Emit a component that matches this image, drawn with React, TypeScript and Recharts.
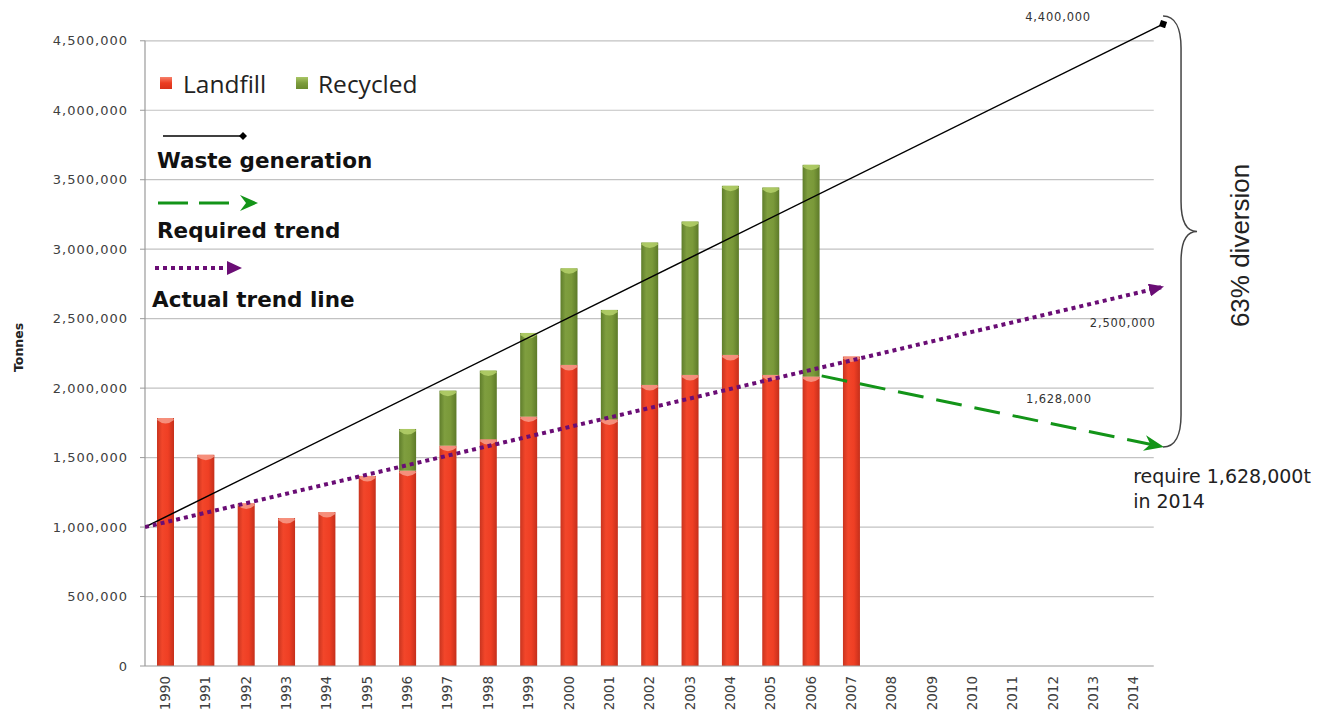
import React from 'react';
import {
  ComposedChart,
  Bar,
  Line,
  XAxis,
  YAxis,
  ReferenceLine,
  ReferenceDot,
  Legend,
  Label,
} from 'recharts';

// ---------- data ----------
const YEARS = [
  1990, 1991, 1992, 1993, 1994, 1995, 1996, 1997, 1998, 1999, 2000, 2001, 2002,
  2003, 2004, 2005, 2006, 2007, 2008, 2009, 2010, 2011, 2012, 2013, 2014,
];
const BAR_YEARS = [
  1990, 1991, 1992, 1993, 1994, 1995, 1996, 1997, 1998, 1999, 2000, 2001, 2002,
  2003, 2004, 2005, 2006, 2007,
];
const LANDFILL = [
  1785000, 1520000, 1170000, 1065000, 1108000, 1368000, 1406000, 1586000,
  1632000, 1795000, 2167000, 1775000, 2023000, 2095000, 2239000, 2095000,
  2083000, 2227000,
];
const RECYCLED = [
  0, 0, 0, 0, 0, 0, 300000, 396000, 494000, 602000, 695000, 788000, 1025000,
  1104000, 1217000, 1349000, 1524000, 0,
];
const Y_TICKS = [
  0, 500000, 1000000, 1500000, 2000000, 2500000, 3000000, 3500000, 4000000,
  4500000,
];
const GRID_VALUES = [500000, 1000000, 1500000, 2000000, 2500000, 3000000, 3500000, 4000000, 4500000];
const BOUNDS = [...YEARS.map((y) => y - 0.5), 2014.5];

// trend lines (start / end points)
const WASTE_X = [1989.5, 2014.73];
const WASTE_V = [1000000, 4620000];
const ACTUAL_X = [1989.5, 2014.73];
const ACTUAL_V = [1000000, 2729000];
const REQUIRED_X = [2006.27, 2014.73];
const REQUIRED_V = [2088000, 1577000];

const SERIES = {
  landfill: 'Landfill',
  recycled: 'Recycled',
  waste: 'Waste generation',
  required: 'Required trend',
  actual: 'Actual trend line',
};

const barData = BAR_YEARS.map((year, i) => ({
  year,
  landfill: LANDFILL[i],
  recycled: RECYCLED[i],
}));
const wasteData = WASTE_X.map((year, i) => ({ year, v: WASTE_V[i] }));
const actualData = ACTUAL_X.map((year, i) => ({ year, v: ACTUAL_V[i] }));
const requiredData = REQUIRED_X.map((year, i) => ({ year, v: REQUIRED_V[i] }));

const X_DOMAIN: [number, number] = [1989.5, 2015.2];
const Y_DOMAIN: [number, number] = [0, 4700000];

const fmt = (v: number) => v.toLocaleString('en-US');

// ---------- styles ----------
const GREEN = '#139418';
const PURPLE = '#6a0d75';
const GRID = '#c2c2c2';
const AXIS = '#9a9a9a';
const TICK_TEXT = '#404040';
const BAR_W = 17;

const makeBarShape = (grad: string, cap: string) => (p: any) => {
  const { x, y, width, height } = p;
  if (!height || height <= 0) return <g />;
  const cx = x + width / 2;
  const bx = cx - BAR_W / 2;
  const w = BAR_W;
  return (
    <g>
      <rect x={bx} y={y} width={w} height={height} fill={`url(#${grad})`} />
      <path
        d={`M${bx + 1},${y} L${bx + w - 1},${y} L${bx + w},${y + 2} Q${cx},${y + 9} ${bx},${y + 2} Z`}
        fill={cap}
        opacity={0.8}
      />
    </g>
  );
};
const LandfillShape = makeBarShape('gRed', '#f8a391');
const RecycledShape = makeBarShape('gGreen', '#b9d46e');

const XTick = (p: any) => {
  const { x, y, payload } = p;
  return (
    <text
      x={x}
      y={y}
      dy="0.36em"
      transform={`rotate(-90, ${x}, ${y})`}
      textAnchor="end"
      fontFamily="DejaVu Sans"
      fontSize={13.5}
      fill={TICK_TEXT}
    >
      {payload.value}
    </text>
  );
};

const YTick = (p: any) => {
  const { x, y, payload } = p;
  return (
    <text
      x={x}
      y={y}
      dy="0.355em"
      textAnchor="end"
      fontFamily="DejaVu Sans"
      fontSize={13}
      letterSpacing={1}
      fill={TICK_TEXT}
    >
      {fmt(payload.value)}
    </text>
  );
};

const TonnesLabel = (p: any) => {
  const vb = p.viewBox || { x: 0, y: 0, height: 0 };
  const x = vb.x + 15;
  const y = vb.y + vb.height / 2 + 8;
  return (
    <text
      x={x}
      y={y}
      transform={`rotate(-90, ${x}, ${y})`}
      textAnchor="middle"
      fontFamily="DejaVu Sans"
      fontWeight="bold"
      fontSize={12.5}
      fill="#222"
    >
      Tonnes
    </text>
  );
};

const textShape =
  (label: string, opts: { size: number; family?: string; anchor?: string; spacing?: number; color?: string; rotate?: boolean; second?: string }) =>
  (p: any) => {
    const { cx, cy } = p;
    return (
      <text
        x={cx}
        y={cy}
        textAnchor={opts.anchor || 'middle'}
        fontFamily={opts.family || 'DejaVu Sans'}
        fontSize={opts.size}
        letterSpacing={opts.spacing || 0}
        fill={opts.color || '#333'}
        transform={opts.rotate ? `rotate(-90, ${cx}, ${cy})` : undefined}
      >
        {opts.second ? (
          <>
            <tspan x={cx}>{label}</tspan>
            <tspan x={cx} dy={25}>
              {opts.second}
            </tspan>
          </>
        ) : (
          label
        )}
      </text>
    );
  };

const BraceShape = (p: any) => {
  const { x1, y1, y2 } = p;
  const x0 = x1;
  const yt = Math.min(y1, y2);
  const yb = Math.max(y1, y2);
  const ym = (yt + yb) / 2;
  const b = x0 + 18;
  const t = x0 + 34;
  const d = [
    `M${x0},${yt}`,
    `C${x0 + 12},${yt} ${b},${yt + 12} ${b},${yt + 32}`,
    `L${b},${ym - 30}`,
    `C${b},${ym - 8} ${b + 6},${ym} ${t},${ym}`,
    `C${b + 6},${ym} ${b},${ym + 8} ${b},${ym + 30}`,
    `L${b},${yb - 32}`,
    `C${b},${yb - 12} ${x0 + 12},${yb} ${x0},${yb}`,
  ].join(' ');
  return <path d={d} fill="none" stroke="#444" strokeWidth={1.5} />;
};

const LegendContent = () => (
  <svg width={440} height={320} style={{ overflow: 'visible', display: 'block' }}>
    <defs>
      <linearGradient id="lgRed" x1="0" y1="0" x2="0" y2="1">
        <stop offset="0" stopColor="#f6806a" />
        <stop offset="0.5" stopColor="#ec3d22" />
        <stop offset="1" stopColor="#d8321b" />
      </linearGradient>
      <linearGradient id="lgGreen" x1="0" y1="0" x2="0" y2="1">
        <stop offset="0" stopColor="#a9c665" />
        <stop offset="0.5" stopColor="#7d9c3d" />
        <stop offset="1" stopColor="#6a8a2e" />
      </linearGradient>
    </defs>
    <rect x={152} y={69} width={12} height={12} fill="url(#lgRed)" />
    <text x={175} y={85} fontFamily="Open Sans" fontSize={24.5} fill="#222">
      {SERIES.landfill}
    </text>
    <rect x={288} y={69} width={12} height={12} fill="url(#lgGreen)" />
    <text x={310} y={85} fontFamily="Open Sans" fontSize={24.5} fill="#222">
      {SERIES.recycled}
    </text>

    <line x1={155} y1={128} x2={232} y2={128} stroke="#000" strokeWidth={1.5} />
    <path d="M235,124 L239,128 L235,132 L231,128 Z" fill="#000" />
    <text x={149} y={160} fontFamily="DejaVu Sans" fontWeight="bold" fontSize={21.5} fill="#111">
      {SERIES.waste}
    </text>

    <line x1={150} y1={195} x2={221} y2={195} stroke={GREEN} strokeWidth={3} strokeDasharray="30 11" />
    <path d="M232,187 L250,195 L232,203 L238,195 Z" fill={GREEN} />
    <text x={149} y={230} fontFamily="DejaVu Sans" fontWeight="bold" fontSize={21.5} fill="#111">
      {SERIES.required}
    </text>

    <line x1={147} y1={260} x2={216} y2={260} stroke={PURPLE} strokeWidth={4} strokeDasharray="4 4" />
    <path d="M219,253 L234,260 L219,267 Z" fill={PURPLE} />
    <text x={144} y={299} fontFamily="DejaVu Sans" fontWeight="bold" fontSize={21.5} fill="#111">
      {SERIES.actual}
    </text>
  </svg>
);

export default function App() {
  return (
    <div style={{ width: 1320, height: 709 }}>
      <ComposedChart
        width={1320}
        height={709}
        data={barData}
        margin={{ top: 5, right: 146, bottom: 6, left: 0 }}
      >
        <defs>
          <linearGradient id="gRed" x1="0" y1="0" x2="1" y2="0">
            <stop offset="0" stopColor="#c9341f" />
            <stop offset="0.3" stopColor="#f2462a" />
            <stop offset="0.65" stopColor="#ef3f24" />
            <stop offset="1" stopColor="#c52f1b" />
          </linearGradient>
          <linearGradient id="gGreen" x1="0" y1="0" x2="1" y2="0">
            <stop offset="0" stopColor="#5f7d2b" />
            <stop offset="0.3" stopColor="#7f9e3f" />
            <stop offset="0.65" stopColor="#7a9939" />
            <stop offset="1" stopColor="#5d7a29" />
          </linearGradient>
          <marker id="mDiamond" markerUnits="userSpaceOnUse" markerWidth={9} markerHeight={9} refX={4.5} refY={4.5} orient="auto" viewBox="0 0 9 9">
            <path d="M4.5 0 L9 4.5 L4.5 9 L0 4.5 Z" fill="#000" />
          </marker>
          <marker id="mPurple" markerUnits="userSpaceOnUse" markerWidth={15} markerHeight={13} refX={14} refY={6.5} orient="auto" viewBox="0 0 15 13">
            <path d="M0 0 L15 6.5 L0 13 Z" fill={PURPLE} />
          </marker>
          <marker id="mGreen" markerUnits="userSpaceOnUse" markerWidth={20} markerHeight={16} refX={19} refY={8} orient="auto" viewBox="0 0 20 16">
            <path d="M0 0 L20 8 L0 16 L6 8 Z" fill={GREEN} />
          </marker>
        </defs>

        <XAxis
          xAxisId="b"
          dataKey="year"
          type="number"
          domain={X_DOMAIN}
          allowDataOverflow
          ticks={BOUNDS}
          interval={0}
          tick={false}
          tickLine={{ stroke: AXIS }}
          tickSize={6}
          axisLine={false}
          height={1}
        />
        <XAxis
          xAxisId="l"
          dataKey="year"
          type="number"
          domain={X_DOMAIN}
          allowDataOverflow
          ticks={YEARS}
          interval={0}
          tick={<XTick />}
          tickLine={false}
          tickSize={0}
          tickMargin={9}
          axisLine={false}
          height={44}
        />
        <YAxis
          yAxisId="y"
          type="number"
          domain={Y_DOMAIN}
          allowDataOverflow
          ticks={Y_TICKS}
          interval={0}
          width={137}
          axisLine={false}
          tickLine={{ stroke: AXIS }}
          tickSize={5}
          tickMargin={12}
          tick={<YTick />}
        >
          <Label content={<TonnesLabel />} />
        </YAxis>

        {GRID_VALUES.map((v) => (
          <ReferenceLine
            key={`g${v}`}
            xAxisId="b"
            yAxisId="y"
            segment={[
              { x: 1989.5, y: v },
              { x: 2014.5, y: v },
            ]}
            stroke={GRID}
            strokeWidth={1.2}
            ifOverflow="visible"
            zIndex={-50}
          />
        ))}
        <ReferenceLine
          xAxisId="b"
          yAxisId="y"
          segment={[
            { x: 1989.5, y: 0 },
            { x: 2014.5, y: 0 },
          ]}
          stroke={AXIS}
          strokeWidth={1.2}
          ifOverflow="visible"
        />
        <ReferenceLine
          xAxisId="b"
          yAxisId="y"
          segment={[
            { x: 1989.5, y: 0 },
            { x: 1989.5, y: 4500000 },
          ]}
          stroke={AXIS}
          strokeWidth={1.2}
          ifOverflow="visible"
        />

        <Bar
          xAxisId="l"
          yAxisId="y"
          dataKey="landfill"
          name={SERIES.landfill}
          stackId="s"
          barSize={BAR_W}
          fill="#ee3f24"
          shape={LandfillShape}
          isAnimationActive={false}
        />
        <Bar
          xAxisId="l"
          yAxisId="y"
          dataKey="recycled"
          name={SERIES.recycled}
          stackId="s"
          barSize={BAR_W}
          fill="#7b9a3b"
          shape={RecycledShape}
          isAnimationActive={false}
        />

        <Line
          xAxisId="b"
          yAxisId="y"
          data={wasteData}
          dataKey="v"
          name={SERIES.waste}
          stroke="#000"
          strokeWidth={1.5}
          dot={false}
          activeDot={false}
          markerEnd="url(#mDiamond)"
          isAnimationActive={false}
        />
        <Line
          xAxisId="b"
          yAxisId="y"
          data={actualData}
          dataKey="v"
          name={SERIES.actual}
          stroke={PURPLE}
          strokeWidth={4}
          strokeDasharray="4 4"
          dot={false}
          activeDot={false}
          markerEnd="url(#mPurple)"
          isAnimationActive={false}
        />
        <Line
          xAxisId="b"
          yAxisId="y"
          data={requiredData}
          dataKey="v"
          name={SERIES.required}
          stroke={GREEN}
          strokeWidth={3}
          strokeDasharray="26 13"
          dot={false}
          activeDot={false}
          markerEnd="url(#mGreen)"
          isAnimationActive={false}
        />

        <ReferenceLine
          xAxisId="b"
          yAxisId="y"
          segment={[
            { x: 2014.73, y: 4678000 },
            { x: 2014.73, y: 1576000 },
          ]}
          ifOverflow="visible"
          shape={BraceShape}
        />

        <ReferenceDot xAxisId="b" yAxisId="y" x={2012.13} y={4639000} r={0} ifOverflow="visible"
          shape={textShape('4,400,000', { size: 11.5, spacing: 0.8 })} />
        <ReferenceDot xAxisId="b" yAxisId="y" x={2013.73} y={2440000} r={0} ifOverflow="visible"
          shape={textShape('2,500,000', { size: 11.5, spacing: 0.8 })} />
        <ReferenceDot xAxisId="b" yAxisId="y" x={2012.15} y={1893000} r={0} ifOverflow="visible"
          shape={textShape('1,628,000', { size: 11.5, spacing: 0.8 })} />
        <ReferenceDot xAxisId="b" yAxisId="y" x={2013.99} y={1315000} r={0} ifOverflow="visible"
          shape={textShape('require 1,628,000t', { size: 19, anchor: 'start', color: '#222', second: 'in 2014' })} />
        <ReferenceDot xAxisId="b" yAxisId="y" x={2016.86} y={3027000} r={0} ifOverflow="visible"
          shape={textShape('63% diversion', { size: 26, family: 'Liberation Sans', color: '#222', rotate: true })} />

        <Legend
          layout="horizontal"
          verticalAlign="middle"
          align="center"
          content={<LegendContent />}
          wrapperStyle={{ position: 'absolute', left: 0, top: 0, width: 440, height: 320, margin: 0, padding: 0 }}
        />
      </ComposedChart>
    </div>
  );
}
